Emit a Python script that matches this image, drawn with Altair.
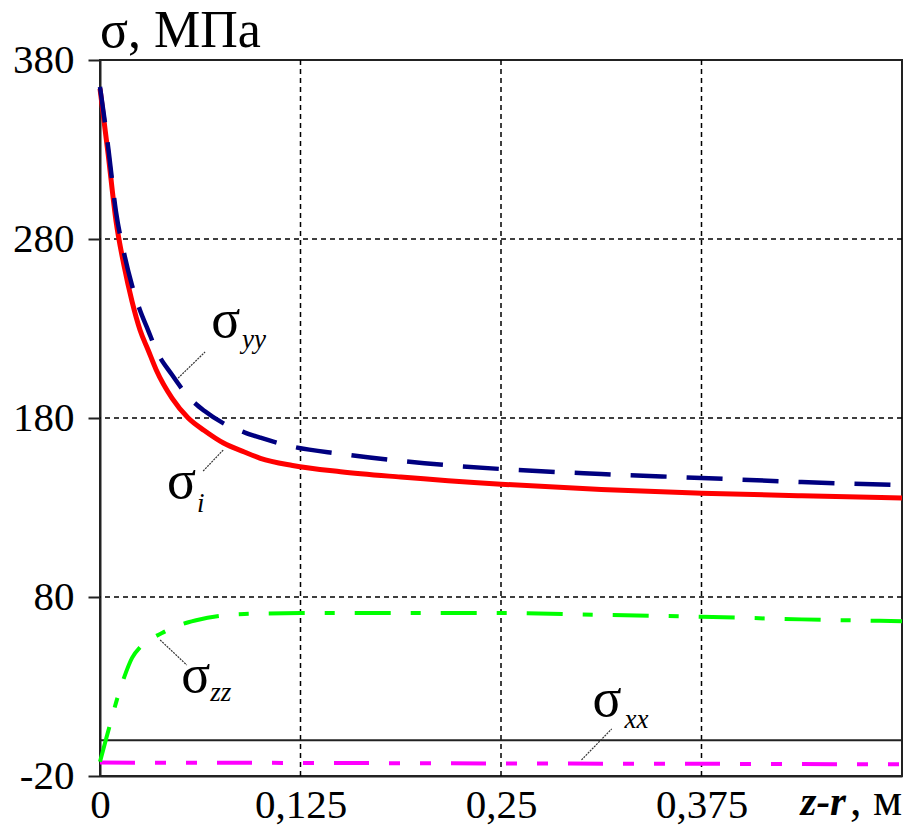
import altair as alt
import pandas as pd

# ---- data ----
z_i  = [0, 0.005, 0.01, 0.015, 0.02, 0.025, 0.03, 0.035, 0.045, 0.055, 0.065, 0.077, 0.09, 0.1, 0.12, 0.15, 0.1875, 0.25, 0.3125, 0.375, 0.4375, 0.5]
s_i  = [364, 328, 290, 265, 245, 229, 218, 207, 191, 180, 173, 166, 161, 157.5, 153.5, 150, 147, 143, 140, 138, 136.5, 135.3]

z_yy = [0, 0.005, 0.01, 0.015, 0.02, 0.025, 0.03, 0.035, 0.045, 0.055, 0.065, 0.077, 0.09, 0.1, 0.12, 0.15, 0.1875, 0.25, 0.3125, 0.375, 0.4375, 0.5]
s_yy = [365, 332, 295, 272, 254, 240, 229, 218, 204, 192, 184, 177, 172, 169, 164, 160, 156, 151.5, 148.7, 146.5, 144.2, 142.5]

z_zz = [0, 0.003, 0.006, 0.01, 0.015, 0.02, 0.025, 0.03, 0.04, 0.05, 0.06, 0.075, 0.09, 0.125, 0.1875, 0.25, 0.3125, 0.375, 0.4375, 0.5]
s_zz = [-12, -2, 8, 21, 35, 46, 52, 55.5, 60.5, 64.5, 67, 69.5, 70.5, 71, 71, 71, 70, 69, 67.5, 66.5]

z_xx = [0, 0.125, 0.25, 0.375, 0.5]
s_xx = [-12.5, -12.7, -13, -13.2, -13.5]

x_ticks = [0, 0.125, 0.25, 0.375]
y_ticks = [-20, 80, 180, 280, 380]
x_grid = [0.125, 0.25, 0.375]
y_grid = [80, 180, 280]

# annotation anchors (data units)
lab_names = ["σ", "σ", "σ", "σ"]
lab_z = [0.0693, 0.0418, 0.0506, 0.3071]
lab_v = [225.3, 135.3, 26.9, 13.5]
sub_text = ["yy", "i", "zz", "xx"]
sub_z = [0.0885, 0.0605, 0.0688, 0.3270]
sub_v = [219.1, 127.5, 21.9, 6.8]
lead_z1 = [0.0487, 0.0768, 0.0375, 0.3002]
lead_v1 = [202.3, 162.1, 56.0, -11.0]
lead_z2 = [0.0655, 0.0643, 0.0541, 0.3190]
lead_v2 = [216.9, 150.4, 42.0, 6.3]

FONT = "Liberation Serif"
X = alt.Scale(domain=[0, 0.5], nice=False, zero=False)
Y = alt.Scale(domain=[-20, 380], nice=False, zero=False)

XAXIS = alt.Axis(
    values=x_ticks, ticks=False, tickSize=0, grid=False, title=None,
    domain=True, domainColor="#222", domainWidth=2,
    labelFont=FONT, labelFontSize=41, labelColor="black",
    labelPadding=9, labelFlush=False, labelOverlap=False,
    labelExpr="replace(datum.value + '', '.', ',')",
)
YAXIS = alt.Axis(
    values=y_ticks, ticks=True, tickSize=12, tickWidth=2, tickColor="#222",
    grid=False, title=None, domain=True, domainColor="#222", domainWidth=2,
    labelFont=FONT, labelFontSize=41, labelColor="black",
    labelPadding=14, labelOverlap=False, labelFlush=False,
    labelExpr="datum.value + ''",
)

def xe(f):
    return alt.X(f, type="quantitative", scale=X, axis=XAXIS)

def ye(f):
    return alt.Y(f, type="quantitative", scale=Y, axis=YAXIS)

def series(z, v, color, width, dash=None):
    df = pd.DataFrame({"z": z, "v": v})
    kw = dict(color=color, strokeWidth=width, interpolate="monotone")
    if dash:
        kw["strokeDash"] = dash
    return alt.Chart(df).mark_line(**kw).encode(x=xe("z"), y=ye("v"))

xgrid = alt.Chart(pd.DataFrame({"z": x_grid})).mark_rule(
    color="black", strokeWidth=1.5, strokeDash=[5, 4]
).encode(x=xe("z"))

ygrid = alt.Chart(pd.DataFrame({"v": y_grid})).mark_rule(
    color="black", strokeWidth=1.5, strokeDash=[5, 4]
).encode(y=ye("v"))

zero_line = alt.Chart(pd.DataFrame({"v": [0]})).mark_rule(
    color="#222", strokeWidth=2
).encode(y=ye("v"))

red = series(z_i, s_i, "#ff0000", 5)
blue = series(z_yy, s_yy, "#000080", 4.5, [36, 20])
green = series(z_zz, s_zz, "#00ff00", 4, [36, 20, 10, 20])
magenta = series(z_xx, s_xx, "#ff00ff", 4, [35, 20, 11, 20, 11, 20])

leaders = alt.Chart(pd.DataFrame({
    "z": lead_z1, "v": lead_v1, "z2": lead_z2, "v2": lead_v2
})).mark_rule(color="#333", strokeWidth=1.2, strokeDash=[2, 1]).encode(
    x=xe("z"), x2="z2:Q", y=ye("v"), y2="v2:Q",
)

sigmas = alt.Chart(pd.DataFrame({"z": lab_z, "v": lab_v, "t": lab_names})).mark_text(
    align="left", baseline="alphabetic", font=FONT, fontSize=54, color="black"
).encode(x=xe("z"), y=ye("v"), text="t:N")

subs = alt.Chart(pd.DataFrame({"z": sub_z, "v": sub_v, "t": sub_text})).mark_text(
    align="left", baseline="alphabetic", font=FONT, fontSize=27, fontStyle="italic", color="black"
).encode(x=xe("z"), y=ye("v"), text="t:N")

title = alt.Chart(pd.DataFrame({"z": [0], "v": [380], "t": ["σ, МПа"]})).mark_text(
    align="left", baseline="alphabetic", font=FONT, fontSize=52, color="black", dy=-13
).encode(x=xe("z"), y=ye("v"), text="t:N")

xtitle_unit = alt.Chart(pd.DataFrame({"z": [0.5], "v": [-20], "t": [", м"]})).mark_text(
    align="right", baseline="alphabetic", font=FONT, fontSize=46, color="black", dy=39
).encode(x=xe("z"), y=ye("v"), text="t:N")

xtitle_var = alt.Chart(pd.DataFrame({"z": [0.5], "v": [-20], "t": ["z-r"]})).mark_text(
    align="right", baseline="alphabetic", font=FONT, fontSize=41, fontStyle="italic",
    fontWeight="bold", color="black", dy=39, dx=-56
).encode(x=xe("z"), y=ye("v"), text="t:N")

chart = alt.layer(
    xgrid, ygrid, zero_line, magenta, green, red, blue,
    leaders, sigmas, subs, title, xtitle_unit, xtitle_var
).properties(
    width=802, height=716,
    autosize=alt.AutoSizeParams(type="none"),
    padding={"left": 100, "top": 60, "right": 6, "bottom": 53},
    background="white",
).configure_view(stroke="#222", strokeWidth=2)

chart.save("out.html", embed_options={"renderer": "svg", "actions": False})
